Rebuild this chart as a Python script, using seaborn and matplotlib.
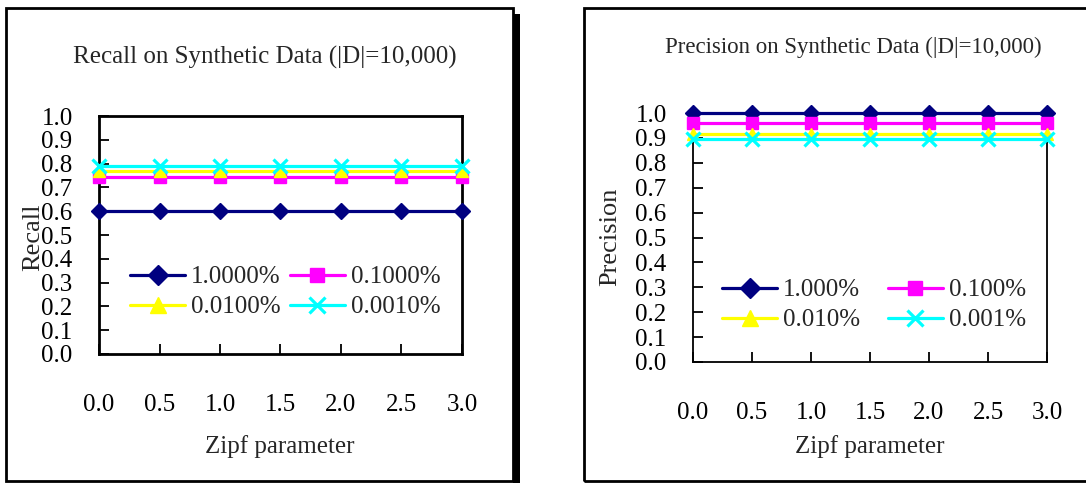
import matplotlib
matplotlib.use("Agg")
import matplotlib.pyplot as plt
from matplotlib.lines import Line2D
from matplotlib.patches import Rectangle
import seaborn as sns
import pandas as pd

sns.set_theme(style="white")
plt.rcParams['font.family'] = ['Liberation Serif', 'DejaVu Serif']

zipf = [0.0, 0.5, 1.0, 1.5, 2.0, 2.5, 3.0]
tick_labels = ["0.0", "0.5", "1.0", "1.5", "2.0", "2.5", "3.0"]
ytick_vals = [0.0, 0.1, 0.2, 0.3, 0.4, 0.5, 0.6, 0.7, 0.8, 0.9, 1.0]

recall_series = ["1.0000%", "0.1000%", "0.0100%", "0.0010%"]
recall_1 = [0.60, 0.60, 0.60, 0.60, 0.60, 0.60, 0.60]
recall_01 = [0.745, 0.745, 0.745, 0.745, 0.745, 0.745, 0.745]
recall_001 = [0.77, 0.77, 0.77, 0.77, 0.77, 0.77, 0.77]
recall_0001 = [0.79, 0.79, 0.79, 0.79, 0.79, 0.79, 0.79]

precision_series = ["1.000%", "0.100%", "0.010%", "0.001%"]
prec_1 = [1.0, 1.0, 1.0, 1.0, 1.0, 1.0, 1.0]
prec_01 = [0.958, 0.958, 0.958, 0.958, 0.958, 0.958, 0.958]
prec_001 = [0.915, 0.915, 0.915, 0.915, 0.915, 0.915, 0.915]
prec_0001 = [0.894, 0.894, 0.894, 0.894, 0.894, 0.894, 0.894]

colors = ["#000080", "#FF00FF", "#FFFF00", "#00FFFF"]
markers = ["D", "s", "^", "x"]
msizes = [8, 8, 9, 10]

W, H = 1086, 483
fig = plt.figure(figsize=(W / 100, H / 100), dpi=100)
fig.patch.set_facecolor("white")


def px_axes(x0, y0, x1, y1):
    return fig.add_axes([x0 / W, 1 - y1 / H, (x1 - x0) / W, (y1 - y0) / H])


def long_df(names, arrays):
    rows = []
    for n, arr in zip(names, arrays):
        for x, v in zip(zipf, arr):
            rows.append({"zipf": x, "value": v, "series": n})
    return pd.DataFrame(rows)


def draw(ax, names, arrays, spine_w, leg_anchor, colsp):
    df = long_df(names, arrays)
    for i, n in enumerate(names):
        sub = df[df["series"] == n]
        sns.lineplot(data=sub, x="zipf", y="value", ax=ax, color=colors[i],
                     marker=markers[i], markersize=msizes[i],
                     markeredgecolor=colors[i],
                     markeredgewidth=2.3 if markers[i] == "x" else 1,
                     linewidth=2.3, clip_on=False, zorder=5)
    ax.set_xlim(0, 3)
    ax.set_ylim(0, 1)
    ax.set_xticks(zipf)
    ax.set_xticklabels(tick_labels)
    ax.set_yticks(ytick_vals)
    ax.set_yticklabels([f"{v:.1f}" for v in ytick_vals])
    ax.tick_params(axis="both", direction="in", length=7, width=1.3, colors="black",
                   labelsize=18, labelcolor="black")
    ax.tick_params(axis="x", pad=29, bottom=True)
    ax.tick_params(axis="y", pad=19, left=True)
    for s in ax.spines.values():
        s.set_color("black")
        s.set_linewidth(spine_w)
    ax.set_xlabel("")
    ax.set_ylabel("")
    handles = [Line2D([0], [0], color=colors[i], marker=markers[i], markersize=msizes[i] + 2,
                      markeredgecolor=colors[i],
                      markeredgewidth=2.3 if markers[i] == "x" else 1,
                      linewidth=2.3) for i in range(4)]
    order = [0, 2, 1, 3]
    ax.legend([handles[k] for k in order], [names[k] for k in order], ncol=2, frameon=False,
              fontsize=18, loc="center left", bbox_to_anchor=leg_anchor,
              bbox_transform=fig.transFigure,
              handlelength=2.2, handletextpad=0.25, columnspacing=colsp, labelspacing=0.3,
              borderaxespad=0, borderpad=0)


ax1 = px_axes(99, 116, 462, 354)
draw(ax1, recall_series, [recall_1, recall_01, recall_001, recall_0001], 2.0,
     (130 / W, 1 - 292 / H), 0.35)
ax2 = px_axes(693, 113, 1047, 362)
draw(ax2, precision_series, [prec_1, prec_01, prec_001, prec_0001], 1.3,
     (722 / W, 1 - 305 / H), 1.1)

# titles and axis labels
fig.text(265 / W, 1 - 57 / H, "Recall on Synthetic Data (|D|=10,000)", ha="center", va="center",
         fontsize=18)
fig.text(853 / W, 1 - 47 / H, "Precision on Synthetic Data (|D|=10,000)", ha="center", va="center",
         fontsize=16.5)
fig.text(280 / W, 1 - 447 / H, "Zipf parameter", ha="center", va="center", fontsize=18)
fig.text(870 / W, 1 - 447 / H, "Zipf parameter", ha="center", va="center", fontsize=18)
fig.text(33 / W, 1 - 237 / H, "Recall", ha="center", va="center", rotation=90, fontsize=19)
fig.text(610 / W, 1 - 237 / H, "Precision", ha="center", va="center", rotation=90, fontsize=19)

# panel frames
fig.add_artist(Rectangle((6 / W, 1 - 481 / H), (513 - 6) / W, (481 - 8) / H,
                         transform=fig.transFigure, fill=False, edgecolor="black", linewidth=2.0))
fig.add_artist(Rectangle((513 / W, 0), 7 / W, (483 - 14) / H, transform=fig.transFigure,
                         facecolor="black", edgecolor="none"))
fig.add_artist(Rectangle((584 / W, 1 - 481 / H), (1100 - 584) / W, (481 - 8) / H,
                         transform=fig.transFigure, fill=False, edgecolor="black", linewidth=2.0))

fig.savefig("out.png", dpi=100, facecolor="white")
